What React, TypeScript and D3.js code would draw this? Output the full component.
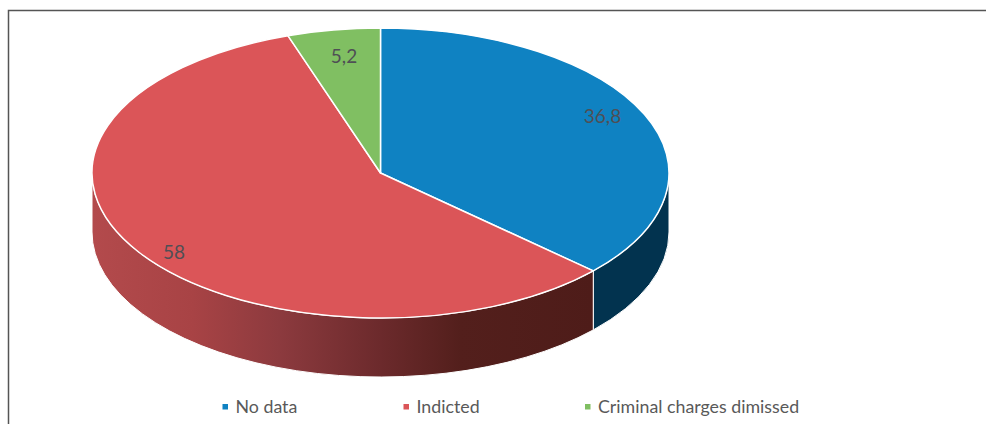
import React from "react";
import * as d3 from "d3";

const categories = ["No data", "Indicted", "Criminal charges dimissed"];
const values = [36.8, 58, 5.2];
const valueLabels = ["36,8", "58", "5,2"];
const topColors = ["#0f82c2", "#db5558", "#80bf62"];
const wallColors = ["#02334f", "url(#redWall)", "#80bf62"];
const redWallStops = [
  { o: 0, c: "#b34a4c" },
  { o: 0.2, c: "#a84345" },
  { o: 0.375, c: "#8c3a3e" },
  { o: 0.575, c: "#6c2a2c" },
  { o: 0.735, c: "#531f1c" },
  { o: 1, c: "#4e1c19" },
];

const W = 986;
const H = 424;
const cx = 380.5;
const cy = 173;
const rx = 288.5;
const ry = 145;
const depth = 59;

const arcs = d3
  .pie<number>()
  .sort(null)
  .value((d) => d)(values);

const unitArc = d3.arc<d3.PieArcDatum<number>>().innerRadius(0).outerRadius(rx);
const px = (a: number) => cx + rx * Math.sin(a);
const py = (a: number) => cy - ry * Math.cos(a);

function wallPath(a0: number, a1: number) {
  const s = Math.max(a0, Math.PI / 2);
  const e = Math.min(a1, (3 * Math.PI) / 2);
  if (e <= s) return null;
  return (
    `M${px(s)},${py(s)}A${rx},${ry} 0 0 1 ${px(e)},${py(e)}` +
    `L${px(e)},${py(e) + depth}A${rx},${ry} 0 0 0 ${px(s)},${py(s) + depth}Z`
  );
}

const labelPos = [
  { x: 602.5, y: 118.5 },
  { x: 174, y: 254 },
  { x: 344, y: 58 },
];
const legendX = [225.5, 406.5, 588];
const font = "Lato, 'Open Sans', sans-serif";
const textColor = "#595959";

export default function App() {
  return (
    <svg
      width={W}
      height={H}
      viewBox={`0 0 ${W} ${H}`}
      style={{ position: "absolute", left: 0, top: 0, background: "#fff" }}
    >
      <defs>
        <linearGradient id="redWall" gradientUnits="userSpaceOnUse" x1={cx - rx} x2={px(arcs[0].endAngle)} y1={0} y2={0}>
          {redWallStops.map((s) => (
            <stop key={s.o} offset={s.o} stopColor={s.c} />
          ))}
        </linearGradient>
      </defs>
      <path d={`M8.5,${H}V10.5H${W}`} fill="none" stroke="#555" strokeWidth={1.5} />
      {arcs.map((a, i) => {
        const d = wallPath(a.startAngle, a.endAngle);
        return d ? <path key={i} d={d} fill={wallColors[i]} stroke="#fff" strokeWidth={1} /> : null;
      })}
      <g transform={`translate(${cx},${cy}) scale(1,${ry / rx})`}>
        {arcs.map((a, i) => (
          <path
            key={i}
            d={unitArc(a) as string}
            fill={topColors[i]}
            stroke="#fff"
            strokeWidth={1.5}
            strokeLinejoin="round"
            style={{ vectorEffect: "non-scaling-stroke" }}
          />
        ))}
      </g>
      {valueLabels.map((t, i) => (
        <text
          key={t}
          x={labelPos[i].x}
          y={labelPos[i].y}
          textAnchor="middle"
          dominantBaseline="middle"
          fontFamily={font}
          fontSize={19}
          fill="#4f4f55"
        >
          {t}
        </text>
      ))}
      {categories.map((c, i) => (
        <g key={c}>
          <rect x={legendX[i] - 3} y={404} width={5.5} height={5.5} fill={topColors[i]} />
          <text x={legendX[i] + 10} y={408} dominantBaseline="middle" fontFamily={font} fontSize={17.8} fill={textColor}>
            {c}
          </text>
        </g>
      ))}
    </svg>
  );
}
